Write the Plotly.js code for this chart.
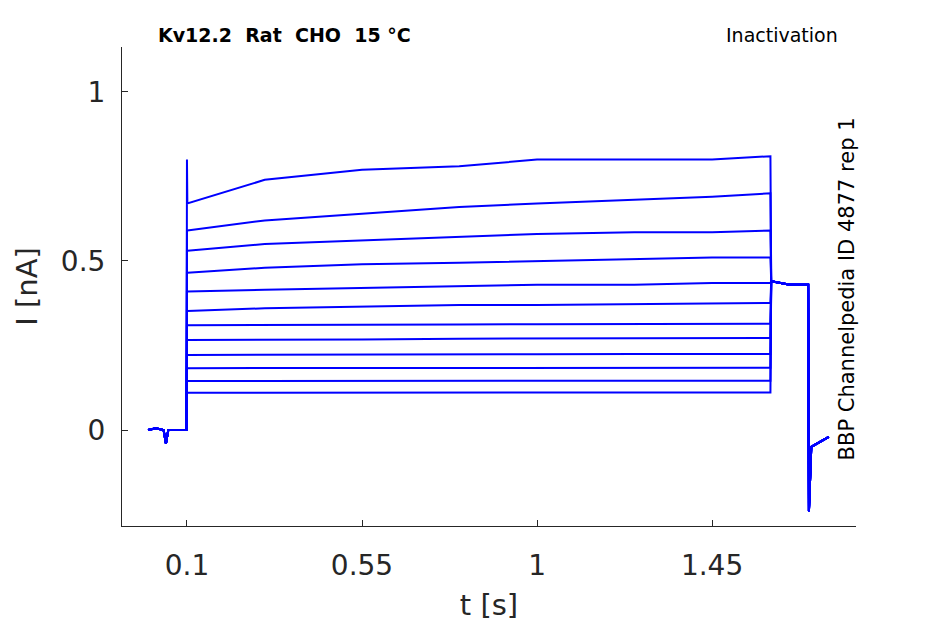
<!DOCTYPE html>
<html>
<head>
<meta charset="utf-8">
<script src="https://cdn.plot.ly/plotly-3.0.1.min.js"></script>
<style>body{margin:0}#chart{width:945px;height:624px}</style>
</head>
<body>
<div id="chart"></div>
<script>
// values
var preTimes = [0.0, 0.02, 0.04, 0.046, 0.052, 0.099]
var preValues = [0.0, 0.005, 0.0, -0.04, 0.0, 0.0]
var stepTimes = [0.101, 0.3, 0.55, 0.8, 1.0, 1.25, 1.45, 1.6]
var levels = [
  [0.67, 0.74, 0.77, 0.78, 0.80, 0.80, 0.80, 0.81],
  [0.59, 0.62, 0.64, 0.66, 0.67, 0.68, 0.69, 0.70],
  [0.53, 0.55, 0.56, 0.57, 0.58, 0.585, 0.585, 0.59],
  [0.465, 0.48, 0.49, 0.495, 0.50, 0.505, 0.51, 0.51],
  [0.41, 0.415, 0.42, 0.425, 0.43, 0.43, 0.435, 0.435],
  [0.352, 0.36, 0.365, 0.37, 0.37, 0.373, 0.375, 0.376],
  [0.31, 0.31, 0.312, 0.312, 0.313, 0.313, 0.314, 0.314],
  [0.266, 0.267, 0.268, 0.27, 0.27, 0.271, 0.272, 0.272],
  [0.222, 0.222, 0.223, 0.224, 0.224, 0.225, 0.225, 0.225],
  [0.183, 0.183, 0.183, 0.184, 0.184, 0.184, 0.184, 0.184],
  [0.145, 0.145, 0.145, 0.145, 0.146, 0.146, 0.146, 0.146],
  [0.11, 0.11, 0.11, 0.11, 0.111, 0.111, 0.111, 0.111]
]
var spikeValue = 0.8
var tailTimes = [1.602, 1.65, 1.697, 1.699, 1.705, 1.75]
var tailValues = [0.44, 0.43, 0.43, -0.24, -0.05, -0.02]

var data = levels.map(function(lv, i) {
  var x = preTimes.concat([0.1], stepTimes, tailTimes)
  var y = preValues.concat([i == 0 ? spikeValue : lv[0]], lv, tailValues)
  return {x: x, y: y, mode: 'lines', type: 'scatter', line: {color: '#0000ff', width: 2}, hoverinfo: 'skip'}
})

var tickFont = {family: 'DejaVu Sans', size: 28, color: '#262626'}
var layout = {
  width: 945, height: 624,
  margin: {l: 122, r: 89, t: 47, b: 98},
  showlegend: false,
  paper_bgcolor: 'white', plot_bgcolor: 'white',
  xaxis: {
    range: [-0.067, 1.82], tickvals: [0.1, 0.55, 1, 1.45], ticktext: ['0.1', '0.55', '1', '1.45'],
    showgrid: false, zeroline: false, showline: true, linecolor: '#262626', linewidth: 1,
    ticks: 'inside', ticklen: 6, tickcolor: '#262626', tickfont: tickFont, ticklabelstandoff: 14,
    title: {text: 't [s]', font: {family: 'DejaVu Sans', size: 29, color: '#262626'}, standoff: 14}
  },
  yaxis: {
    range: [-0.284, 1.133], tickvals: [0, 0.5, 1], ticktext: ['0', '0.5', '1'],
    showgrid: false, zeroline: false, showline: true, linecolor: '#262626', linewidth: 1,
    ticks: 'inside', ticklen: 6, tickcolor: '#262626', tickfont: tickFont, ticklabelstandoff: 10,
    title: {text: 'I [nA]', font: {family: 'DejaVu Sans', size: 29, color: '#262626'}, standoff: 14}
  },
  annotations: [
    {text: '<b>Kv12.2  Rat  CHO  15 °C</b>', xref: 'paper', yref: 'paper', x: 0.222, y: 0.997, xanchor: 'center', yanchor: 'bottom', showarrow: false, font: {family: 'DejaVu Sans', size: 19, color: 'black'}},
    {text: 'Inactivation', xref: 'paper', yref: 'paper', x: 0.978, y: 0.997, xanchor: 'right', yanchor: 'bottom', showarrow: false, font: {family: 'DejaVu Sans', size: 19, color: 'black'}},
    {text: 'BBP Channelpedia ID 4877 rep 1', xref: 'paper', yref: 'paper', x: 0.968, y: 0.495, xanchor: 'left', yanchor: 'middle', textangle: -90, showarrow: false, font: {family: 'DejaVu Sans', size: 21, color: 'black'}}
  ]
}
Plotly.newPlot('chart', data, layout, {displayModeBar: false})
</script>
</body>
</html>
